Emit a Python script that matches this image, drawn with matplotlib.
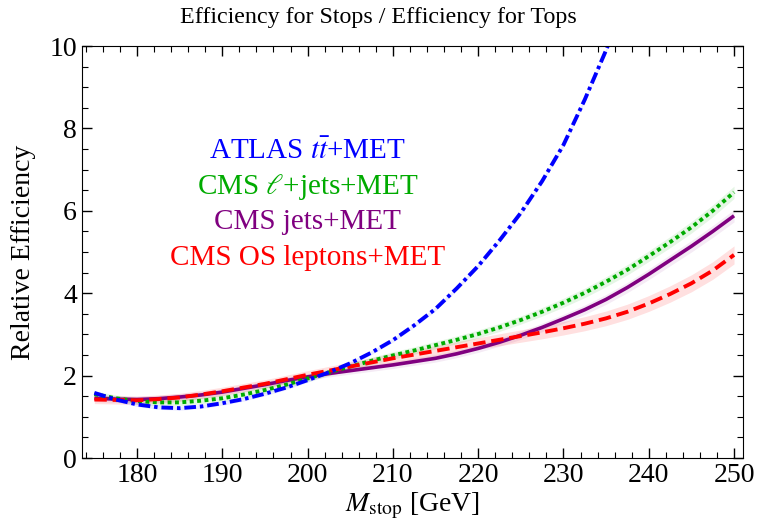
import numpy as np
import matplotlib
matplotlib.use("Agg")
import matplotlib.pyplot as plt
from matplotlib.ticker import MultipleLocator

plt.rcParams['font.family'] = ['Liberation Serif', 'DejaVu Serif']
plt.rcParams['mathtext.fontset'] = 'stix'

# stop mass [GeV]
m_atlas = [175, 177.5, 180, 182.5, 185, 187.5, 190, 192.5, 195, 197.5, 200, 202.5, 205,
           207.5, 210, 212.5, 215, 217.5, 220, 222.5, 225, 227.5, 230, 232.5, 235, 237.5]
eff_atlas = [1.58, 1.42, 1.3, 1.23, 1.21, 1.25, 1.33, 1.43, 1.56, 1.71, 1.89, 2.08, 2.3,
             2.56, 2.86, 3.22, 3.62, 4.12, 4.66, 5.28, 5.95, 6.72, 7.6, 8.7, 9.9, 11.2]

m_cms = [175, 177.5, 180, 182.5, 185, 187.5, 190, 192.5, 195, 197.5, 200, 202.5, 205, 207.5,
         210, 212.5, 215, 217.5, 220, 222.5, 225, 227.5, 230, 232.5, 235, 237.5, 240, 242.5,
         245, 247.5, 250]
eff_lep_jets = [1.55, 1.45, 1.38, 1.35, 1.35, 1.39, 1.45, 1.54, 1.65, 1.78, 1.93, 2.08, 2.22, 2.36,
                2.49, 2.61, 2.74, 2.87, 3.01, 3.17, 3.35, 3.55, 3.77, 4.01, 4.28, 4.57, 4.9, 5.24,
                5.6, 6.0, 6.45]
eff_jets = [1.45, 1.43, 1.42, 1.44, 1.48, 1.53, 1.6, 1.69, 1.78, 1.88, 1.97, 2.05, 2.12, 2.19,
            2.26, 2.34, 2.42, 2.53, 2.66, 2.81, 2.98, 3.17, 3.38, 3.6, 3.85, 4.14, 4.46, 4.8,
            5.14, 5.5, 5.88]
eff_os = [1.42, 1.41, 1.4, 1.43, 1.47, 1.54, 1.62, 1.71, 1.8, 1.91, 2.02, 2.12, 2.22, 2.32,
          2.42, 2.51, 2.6, 2.69, 2.78, 2.87, 2.96, 3.05, 3.15, 3.26, 3.39, 3.55, 3.75, 3.98,
          4.24, 4.55, 4.93]

# half widths of the shaded bands (at 175, 200, 225, 250 GeV)
m_err = [175, 200, 225, 250]
err_lep_jets = [0.08, 0.08, 0.1, 0.15]
err_jets = [0.08, 0.08, 0.1, 0.15]
err_os = [0.1, 0.1, 0.15, 0.22]
err_atlas = [0.05, 0.05, 0.05, 0.05]

labels = ["ATLAS $t\\bar{t}$+MET", "CMS $\\ell$+jets+MET", "CMS jets+MET", "CMS OS leptons+MET"]
label_y = [7.43, 6.58, 5.73, 4.85]

blue = (0, 0, 1)
green = (0, 0.67, 0)
purple = (0.5, 0, 0.5)
red = (1, 0, 0)
colors = [blue, green, purple, red]

fig = plt.figure(figsize=(7.57, 5.29), dpi=100)
ax = fig.add_axes([0.1083, 0.1342, 0.8732, 0.7788])

def band(x, y, e, col, a):
    x = np.array(x)
    y = np.array(y)
    e = np.interp(x, m_err, e)
    ax.fill_between(x, y - e, y + e, color=col, alpha=a, lw=0)

band(m_cms, eff_os, err_os, red, 0.12)
band(m_cms, eff_jets, err_jets, purple, 0.08)
band(m_cms, eff_lep_jets, err_lep_jets, green, 0.1)
band(m_atlas, eff_atlas, err_atlas, blue, 0.08)

ax.plot(m_cms, eff_jets, color=purple, lw=2.6, solid_capstyle='butt')
ax.plot(m_cms, eff_lep_jets, color=green, lw=2.8, dashes=(1.0, 0.9), dash_capstyle='butt')
ax.plot(m_cms, eff_os, color=red, lw=2.8, dashes=(3.2, 1.5), dash_capstyle='butt')
ax.plot(m_atlas, eff_atlas, color=blue, lw=2.8, dashes=(3.0, 1.0, 0.9, 1.0), dash_capstyle='butt')

for txt, yy, c in zip(labels, label_y, colors):
    ax.text(200, yy, txt, color=c, fontsize=21, ha='center', va='center')

ax.set_xlim(173.55, 251.05)
ax.set_ylim(0, 10)
ax.xaxis.set_major_locator(MultipleLocator(10))
ax.xaxis.set_minor_locator(MultipleLocator(2))
ax.yaxis.set_major_locator(MultipleLocator(2))
ax.yaxis.set_minor_locator(MultipleLocator(0.5))
ax.tick_params(which='both', direction='in', top=True, right=True, labeltop=False, labelright=False)
ax.tick_params(which='major', length=7, width=1)
ax.tick_params(which='minor', length=4, width=0.8)
ax.tick_params(labelsize=20)

# title is centred on the whole image, not on the frame
fig.text(0.5, 0.966, "Efficiency for Stops / Efficiency for Tops", fontsize=17.3,
         ha='center', va='center')
ax.set_xlabel("$M_{\\mathrm{stop}}$ [GeV]", fontsize=20, labelpad=2)
ax.set_ylabel("Relative Efficiency", fontsize=20, labelpad=10)

fig.savefig("out.png", dpi=100)
